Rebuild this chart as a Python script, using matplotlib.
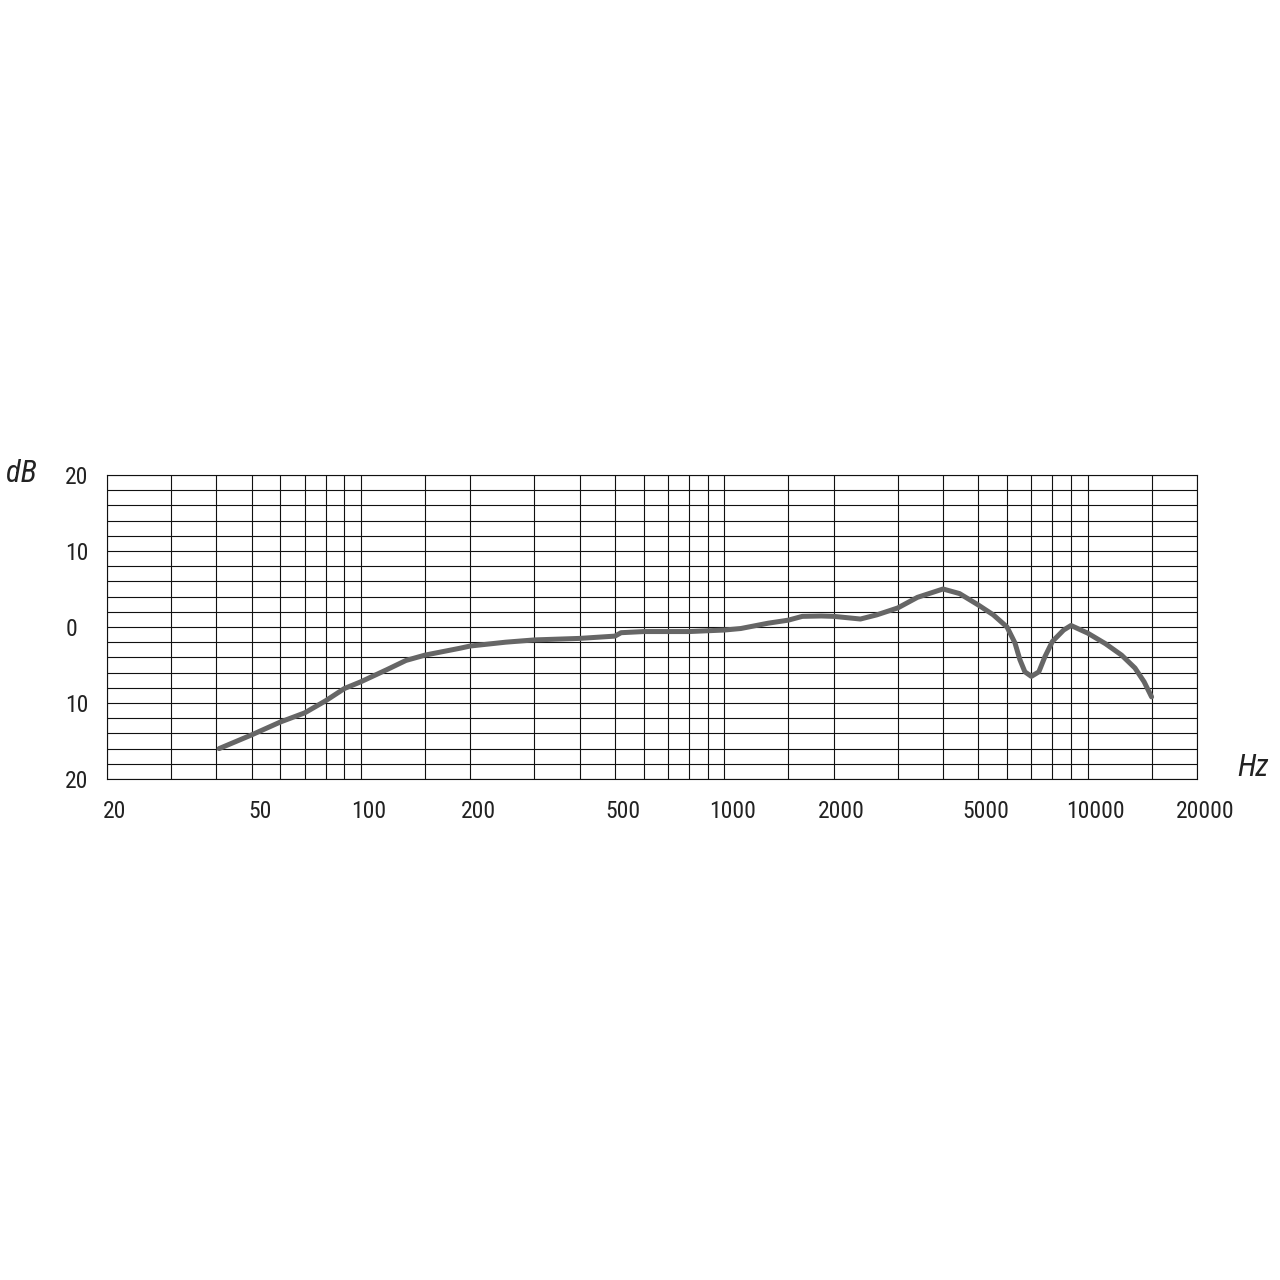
import numpy as np
import matplotlib
matplotlib.use("Agg")
import matplotlib.pyplot as plt
from matplotlib.transforms import ScaledTranslation

# frequency response
freq = [40.7, 50, 60, 70, 80, 90, 100, 118, 133, 150, 187, 200, 250, 300, 400,
        500, 520, 600, 800, 1000, 1110, 1320, 1500, 1640, 1850, 2000, 2370,
        2630, 3000, 3400, 4000, 4440, 5000, 5500, 6000, 6310, 6510, 6720, 7000,
        7340, 7630, 8000, 8590, 9000, 10000, 11200, 12400, 13500, 14300, 15000]
db = [-16, -14.2, -12.5, -11.3, -9.7, -8.1, -7.2, -5.6, -4.4, -3.7, -2.8, -2.5,
      -2.0, -1.7, -1.5, -1.2, -0.75, -0.6, -0.6, -0.4, -0.2, 0.5, 0.9, 1.4,
      1.45, 1.4, 1.05, 1.6, 2.5, 3.9, 5.0, 4.4, 2.9, 1.6, 0.0, -2.1, -4.3,
      -5.9, -6.5, -5.9, -3.9, -1.9, -0.4, 0.2, -0.8, -2.2, -3.7, -5.4, -7.2,
      -9.2]

x_labels = [20, 50, 100, 200, 500, 1000, 2000, 5000, 10000, 20000]
x_grid = [30, 40, 60, 70, 80, 90, 150, 300, 400, 600, 700, 800, 900, 1500,
          3000, 4000, 6000, 7000, 8000, 9000, 15000]
y_labels = [-20, -10, 0, 10, 20]
y_grid = [-18, -16, -14, -12, -8, -6, -4, -2, 2, 4, 6, 8, 12, 14, 16, 18]

fam = ['Roboto Condensed', 'Liberation Sans Narrow', 'DejaVu Sans']
plt.rcParams['font.family'] = fam

fig = plt.figure(figsize=(12.8, 12.8), dpi=100)
ax = fig.add_axes([107/1280, 1 - 779/1280, 1090/1280, 304/1280])

ax.plot(freq, db, color="#666666", lw=3.6, solid_capstyle="round",
        solid_joinstyle="round", zorder=3)

ax.set_xscale("log")
ax.set_xlim(20, 20000)
ax.set_ylim(-20, 20)

ax.set_xticks(x_labels)
ax.set_xticklabels([str(v) for v in x_labels])
ax.set_xticks(x_grid, minor=True)
ax.set_xticklabels([], minor=True)
ax.set_yticks(y_labels)
ax.set_yticklabels([str(abs(v)) for v in y_labels])
ax.set_yticks(y_grid, minor=True)

ax.grid(True, which="both", color="#111111", lw=0.8)
ax.tick_params(which="both", length=0)
ax.tick_params(axis="x", pad=15, labelsize=17, labelcolor="#222222")
ax.tick_params(axis="y", pad=30, labelsize=17, labelcolor="#222222")
for lab in ax.get_yticklabels():
    lab.set_horizontalalignment("left")
for lab in ax.get_xticklabels():
    lab.set_transform(lab.get_transform() + ScaledTranslation(8/100, 0, fig.dpi_scale_trans))

for s in ax.spines.values():
    s.set_linewidth(0.8)
    s.set_color("#111111")

fig.text(21/1280, 1 - 473/1280, "dB", fontsize=22, style="italic",
         ha="center", va="center", color="#222222")
fig.text(1253/1280, 1 - 767/1280, "Hz", fontsize=22, style="italic",
         ha="center", va="center", color="#222222")

fig.savefig("out.png", dpi=100, facecolor="white")
